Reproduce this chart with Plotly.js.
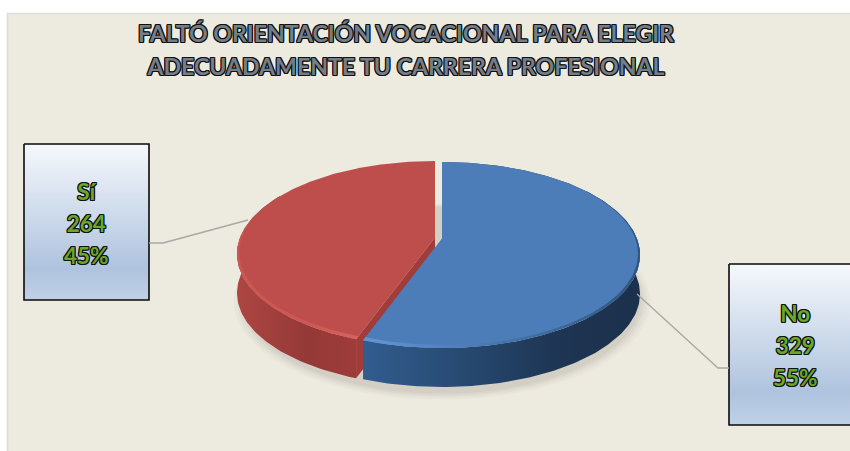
<!DOCTYPE html>
<html><head><meta charset="utf-8">
<script src="https://cdn.plot.ly/plotly-3.0.1.min.js"></script>
<style>html,body{margin:0;padding:0;background:#fff;overflow:hidden}#c{width:850px;height:451px}</style>
</head><body><div id="c"></div>
<script>
const categories = ['No', 'Sí'];
const counts = [329, 264];
const percents = ['55%', '45%'];
const titleLines = ['FALTÓ ORIENTACIÓN VOCACIONAL PARA ELEGIR', 'ADECUADAMENTE TU CARRERA PROFESIONAL'];

const total = counts[0] + counts[1];
const split = counts[0] / total * 360;
// projection of the pie disc
const P = {cx: 442, ay: 238.5, p: 194.9, q: 90.1, k: 0.177, depth: 39};
function pt(deg, r, ox, oy) {
  const t = deg * Math.PI / 180, d = 1 + P.k * r * Math.cos(t);
  return [P.cx + ox + P.p * r * Math.sin(t) / d, P.ay + oy - P.q * r * Math.cos(t) / d];
}
function arc(a, b, r, ox, oy) {
  const out = [], n = Math.max(2, Math.ceil(Math.abs(b - a)));
  for (let i = 0; i <= n; i++) out.push(pt(a + (b - a) * i / n, r, ox, oy));
  return out;
}
// crescent along the rim: inner radius r0 at angle a, r1 at angle b
function band(a, b, r0, r1, ox, oy) {
  const inner = [], n = Math.ceil(Math.abs(b - a));
  for (let i = 0; i <= n; i++) inner.push(pt(a + (b - a) * i / n, r0 + (r1 - r0) * i / n, ox, oy));
  return arc(a, b, 1, ox, oy).concat(inner.reverse());
}
function poly(points, color, extra) {
  return Object.assign({
    x: points.map(p => p[0]), y: points.map(p => p[1]), type: 'scatter', mode: 'lines',
    fill: 'toself', fillcolor: color, line: {width: 0}, hoverinfo: 'skip', showlegend: false
  }, extra || {});
}
function grad(type, stops) {
  return {fillgradient: {type: type, colorscale: stops}};
}
const traces = [];
// soft shadow
[[1.05, 0.03], [1.035, 0.04], [1.02, 0.05], [1.005, 0.06]].forEach(s => {
  traces.push(poly(arc(0, 360, s[0], 0, 45), 'rgba(90,85,75,' + s[1] + ')'));
});
const ex = -7, ey = -1;
// red slice
traces.push(poly([pt(0, 0, ex, ey), pt(split, 1, ex, ey), pt(split, 1, ex, ey + P.depth), pt(0, 0, ex, ey + P.depth)], '#a03c39'));
traces.push(poly(arc(split, 300, 1, ex, ey).concat(arc(300, split, 1, ex, ey + P.depth)), '#000', grad('horizontal', [[0, '#ad4643'], [0.6, '#943937'], [1, '#9e3c3a']])));
traces.push(poly([pt(0, 0, ex, ey)].concat(arc(split, 360, 1, ex, ey)), '#bd4e4b'));
traces.push(poly(band(split, 282, 0.975, 0.995, ex, ey), '#000', grad('horizontal', [[0, '#cd5753'], [0.6, '#cc5753'], [1, '#d8625e']])));
// blue slice
traces.push(poly(arc(0, split, 1, 0, 0).concat(arc(split, 0, 1, 0, P.depth)), '#000', grad('horizontal', [[0, '#325d8f'], [0.35, '#274a72'], [0.7, '#1e3553'], [1, '#1b304c']])));
traces.push(poly([pt(0, 0, 0, 0)].concat(arc(0, split, 1, 0, 0)), '#4d7db9'));
traces.push(poly(band(55, split, 0.997, 0.975, 0, 0), '#000', grad('horizontal', [[0, '#6396d6'], [0.3, '#4f82bf'], [0.75, '#3a6594'], [1, '#2f547f']])));
// label boxes (y axis is reversed, so the stops run bottom to top)
const boxStops = [[0, '#c0d1e7'], [0.2, '#afc3de'], [0.5, '#c9d7e9'], [1, '#f6f8fc']];
function box(x0, x1, y0, y1) {
  traces.push(poly([[x0, y0], [x1, y0], [x1, y1], [x0, y1], [x0, y0]], '#000',
    Object.assign(grad('vertical', boxStops), {line: {width: 1.6, color: '#0a0a0a'}})));
}
box(24, 149, 144, 300);
box(729, 852, 264, 425);
// leader lines
function leader(xs, ys) {
  traces.push({x: xs, y: ys, type: 'scatter', mode: 'lines', line: {color: '#a8a8a4', width: 1.3}, hoverinfo: 'skip', showlegend: false});
}
leader([149, 163, 248], [243, 243, 220]);
leader([729, 718, 637], [368, 368, 294]);

const outline = c => [[-1,0],[1,0],[0,-1],[0,1],[-1,-1],[1,1],[-1,1],[1,-1]].map(o => o[0] + 'px ' + o[1] + 'px 0 ' + c).join(',');
const sized = (lines, s) => lines.map(l => '<span style="font-size:' + s + 'px">' + l + '</span>').join('<br>');
function label(i, x, y) {
  return {
    text: sized([categories[i], String(counts[i]), percents[i]], 22.5), x: x, y: y, xref: 'x', yref: 'y',
    showarrow: false, align: 'center', xanchor: 'center', yanchor: 'middle',
    font: {family: 'Lato, Carlito, sans-serif', size: 24.6, weight: 700, color: '#6aa82c', shadow: outline('#111')}
  };
}
const layout = {
  width: 850, height: 451, margin: {l: 0, r: 0, t: 0, b: 0},
  paper_bgcolor: '#ffffff', plot_bgcolor: 'rgba(0,0,0,0)', showlegend: false,
  title: {
    text: sized(titleLines, 23.1), x: 406 / 850, xanchor: 'center', y: 0.906, yanchor: 'top', automargin: false,
    font: {family: 'Lato, Carlito, sans-serif', size: 25.4, weight: 700, color: '#737e89', shadow: outline('#111')}
  },
  xaxis: {range: [0, 850], visible: false, fixedrange: true},
  yaxis: {range: [451, 0], visible: false, fixedrange: true},
  shapes: [{type: 'rect', xref: 'x', yref: 'y', x0: 7.5, x1: 852, y0: 13.5, y1: 453, fillcolor: '#edeae0', line: {color: '#dcdcdc', width: 1.5}, layer: 'below'}],
  annotations: [label(1, 86.5, 223.5), label(0, 795.5, 345)]
};
Plotly.newPlot('c', traces, layout, {staticPlot: true, displayModeBar: false});
</script></body></html>
